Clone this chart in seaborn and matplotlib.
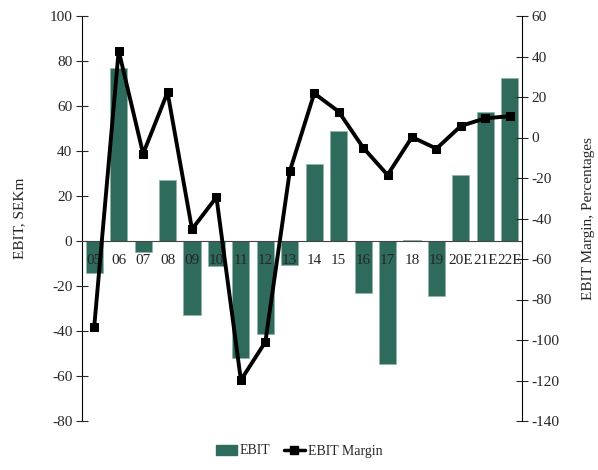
import numpy as np
import pandas as pd
import matplotlib
matplotlib.use("Agg")
import matplotlib.pyplot as plt
from matplotlib.patches import Patch
from matplotlib.lines import Line2D
import seaborn as sns

years = ["05", "06", "07", "08", "09", "10", "11", "12", "13", "14", "15",
         "16", "17", "18", "19", "20E", "21E", "22E"]
ebit = [-14, 77, -5, 27, -33, -11, -52, -41.5, -10.7, 34.4, 48.7,
        -23.3, -54.8, 0.5, -24.3, 29.2, 57.5, 72.6]
margin = [-93.5, 42.9, -8, 22.3, -45.3, -29.5, -119.8, -101, -16.7, 21.8, 12.8,
          -5, -18.5, 0.2, -5.5, 5.7, 9.5, 10.5]

sns.set_style("white")
plt.rcParams["font.family"] = ["Liberation Serif", "DejaVu Serif"]
plt.rcParams["axes.unicode_minus"] = False

df = pd.DataFrame({"year": years, "ebit": ebit, "margin": margin})

fig = plt.figure(figsize=(5.98, 4.70), dpi=100)
ax = fig.add_axes([82 / 598, 1 - 421 / 470, (522 - 82) / 598, (421 - 16) / 470])

bar_color = "#2E6B5D"
sns.barplot(data=df, x="year", y="ebit", ax=ax, color=bar_color, width=0.7,
            saturation=1, edgecolor="#8FB5AA", linewidth=0.5)
ax.set_ylim(-80, 100)
ax.set_xlim(-0.5, len(years) - 0.5)
ax.set_yticks(np.arange(-80, 101, 20))
ax.set_axisbelow(False)

ax2 = ax.twinx()
sns.lineplot(data=df, x="year", y="margin", ax=ax2, color="black", linewidth=2.8,
             marker="s", markersize=6, markeredgecolor="black", sort=False)
ax2.set_ylim(-140, 60)
ax2.set_yticks(np.arange(-140, 61, 20))
ax2.set_xlim(-0.5, len(years) - 0.5)

# spines
for a in (ax, ax2):
    a.spines["top"].set_visible(False)
    a.spines["bottom"].set_visible(False)
ax.spines["right"].set_visible(False)
ax2.spines["left"].set_visible(False)
ax.spines["left"].set_color("black")
ax2.spines["right"].set_color("black")
ax.spines["bottom"].set_visible(True)
ax.spines["bottom"].set_position(("data", 0))
ax.spines["bottom"].set_color("#444444")
ax.spines["bottom"].set_zorder(3)

# x ticks: boundaries as major ticks, labels at minor centers
ax.set_xticks(np.arange(-0.5, len(years), 1.0))
ax.set_xticklabels([])
ax.set_xticks(np.arange(len(years)), minor=True)
ax.set_xticklabels(years, minor=True)
ax.tick_params(axis="x", which="major", direction="inout", length=7, width=0.8, color="#444444")
ax.tick_params(axis="x", which="minor", length=0, pad=9, labelsize=11)
ax.tick_params(axis="y", direction="inout", length=8, width=0.8, labelsize=11, left=True, pad=3)
ax2.tick_params(axis="y", direction="inout", length=8, width=0.8, labelsize=11, right=True, pad=3)

ax.set_xlabel("")
ax.set_ylabel("EBIT, SEKm", fontsize=11, labelpad=17)
ax2.set_ylabel("EBIT Margin, Percentages", fontsize=11, labelpad=16)
ax2.set_xlabel("")

handles = [Patch(facecolor=bar_color, edgecolor=bar_color),
           Line2D([0], [0], color="black", linewidth=2.5, marker="s", markersize=6)]
fig.legend(handles, ["EBIT", "EBIT Margin"], loc="lower center", ncol=2,
           bbox_to_anchor=(0.5, 0.0), frameon=False, fontsize=10,
           handlelength=1.5, handletextpad=0.2, columnspacing=1.0)

fig.savefig("out.png", dpi=100)
